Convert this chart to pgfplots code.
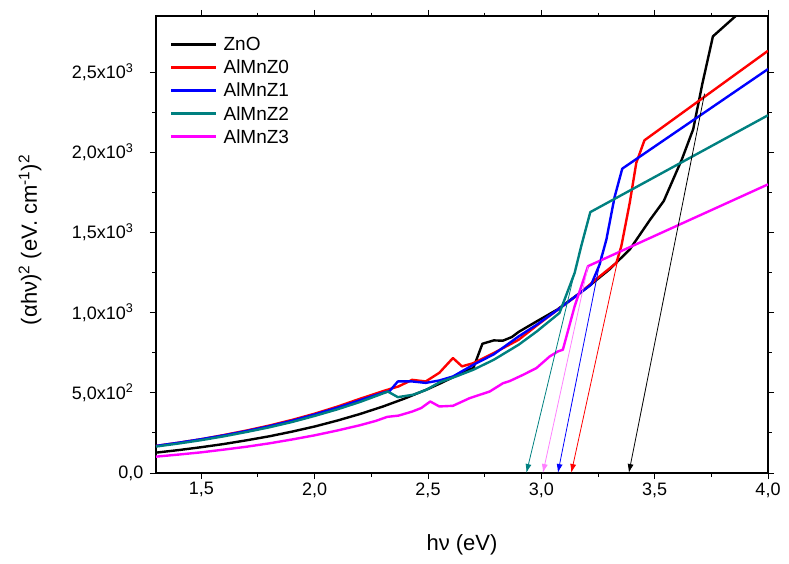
\documentclass[border=0pt]{standalone}
\usepackage{fontspec}
\setmainfont{Liberation Sans}
\usepackage{pgfplots}
\pgfplotsset{compat=1.18}
\usetikzlibrary{arrows.meta}
\definecolor{zteal}{RGB}{0,128,128}
\definecolor{zpink}{RGB}{255,128,255}
\definecolor{zmag}{RGB}{255,0,255}
\definecolor{zred}{RGB}{255,0,0}
\definecolor{zblue}{RGB}{0,0,255}
\begin{document}
\begin{tikzpicture}
\path[use as bounding box] (-156pt,-90pt) rectangle (633pt,473pt);
\begin{axis}[
  at={(0pt,0pt)}, anchor=south west,
  width=612pt, height=457pt, scale only axis,
  xmin=1.3, xmax=4.0, ymin=0, ymax=2850,
  xtick={1.5,2,2.5,3,3.5,4},
  xticklabels={{1,5},{2,0},{2,5},{3,0},{3,5},{4,0}},
  ytick={0,500,1000,1500,2000,2500},
  yticklabels={{0,0},{5,0x10\textsuperscript{2}\hspace*{10pt}},{1,0x10\textsuperscript{3}\hspace*{10pt}},{1,5x10\textsuperscript{3}\hspace*{10pt}},{2,0x10\textsuperscript{3}\hspace*{10pt}},{2,5x10\textsuperscript{3}\hspace*{10pt}}},
  minor x tick num=1, minor y tick num=1,
  tick align=outside,
  major tick length=6pt, minor tick length=3.5pt,
  every tick/.style={black, line width=1pt},
  axis line style={line width=1.2pt},
  ticklabel style={font=\fontsize{18}{20}\selectfont},
  yticklabel style={xshift=-3pt},
  xlabel={hν (eV)},
  ylabel={(αhν)\textsuperscript{2} (eV. cm\textsuperscript{-1})\textsuperscript{2}},
  label style={font=\fontsize{22}{24}\selectfont},
  xlabel style={at={(axis description cs:0.5,0)}, anchor=center, yshift=-72pt},
  ylabel style={at={(axis description cs:-0.206,0.51)}, anchor=center},
  legend style={at={(0.017,0.962)}, anchor=north west, draw=none, fill=none,
    font=\fontsize{19}{21}\selectfont, row sep=3.8pt,
    /tikz/every odd column/.append style={column sep=4pt}},
  legend cell align=left,
  legend image code/.code={\draw[#1, line width=3pt] (0pt,0pt) -- (45pt,0pt);},
  every axis plot/.append style={line width=2.4pt, line join=round},
]
\addplot[black, line width=2.4pt] coordinates {
(1.3,127) (1.4,143) (1.5,161) (1.6,181) (1.7,204) (1.8,229) (1.9,258) (2.0,290)
(2.1,327) (2.2,368) (2.3,414) (2.4,466) (2.5,524) (2.55,556) (2.6,590) (2.66,632)
(2.70,655) (2.74,806) (2.79,827) (2.83,825) (2.87,848) (2.90,880) (2.98,946)
(3.07,1019) (3.20,1154) (3.30,1269) (3.39,1394) (3.48,1580) (3.54,1696) (3.62,1956)
(3.67,2144) (3.71,2425) (3.757,2723) (4.0,3030)};
\addlegendentry{ZnO}
\addplot[zred, line width=2.4pt] coordinates {
(1.3,169) (1.4,189) (1.5,211) (1.6,237) (1.7,265) (1.8,296) (1.9,331) (2.0,370)
(2.1,414) (2.2,463) (2.3,510) (2.37,540) (2.43,581) (2.49,571) (2.55,625) (2.61,717)
(2.65,665) (2.70,685) (2.79,748) (2.90,831) (2.98,920) (3.073,1019) (3.16,1110)
(3.243,1210) (3.331,1310) (3.353,1415) (3.39,1685) (3.419,1935) (3.455,2075) (4.0,2633)};
\addlegendentry{AlMnZ0}
\addplot[zblue, line width=2.4pt] coordinates {
(1.3,169) (1.4,189) (1.5,211) (1.6,235) (1.7,262) (1.8,292) (1.9,326) (2.0,365)
(2.1,407) (2.2,454) (2.3,500) (2.33,510) (2.367,571) (2.43,571) (2.49,562) (2.55,577)
(2.61,602) (2.70,675) (2.79,740) (2.90,852) (2.98,925) (3.073,1019) (3.22,1175)
(3.257,1300) (3.287,1456) (3.323,1720) (3.357,1898) (4.0,2519)};
\addlegendentry{AlMnZ1}
\addplot[zteal, line width=2.4pt] coordinates {
(1.3,165) (1.4,184) (1.5,205) (1.6,229) (1.7,256) (1.8,285) (1.9,318) (2.0,356)
(2.1,397) (2.2,443) (2.28,485) (2.323,508) (2.367,473) (2.434,488) (2.493,519)
(2.55,565) (2.62,600) (2.70,644) (2.79,706) (2.90,800) (2.98,883) (3.08,998)
(3.147,1248) (3.176,1415) (3.216,1627) (4.0,2231)};
\addlegendentry{AlMnZ2}
\addplot[zmag, line width=2.4pt] coordinates {
(1.3,102) (1.4,115) (1.5,129) (1.6,146) (1.7,164) (1.8,185) (1.9,209) (2.0,235)
(2.1,265) (2.2,298) (2.27,325) (2.32,350) (2.37,358) (2.43,383) (2.47,405) (2.51,446)
(2.55,415) (2.61,419) (2.684,467) (2.772,508) (2.831,560) (2.86,573) (2.919,612)
(2.978,654) (3.037,727) (3.073,758) (3.095,769) (3.147,1040) (3.206,1290) (4.0,1800)};
\addlegendentry{AlMnZ3}
\addplot[zteal, line width=0.8pt, -{Latex[length=9pt,width=6pt]}, forget plot] coordinates {(3.15,1270) (2.934,0)};
\addplot[zpink, line width=0.8pt, -{Latex[length=9pt,width=6pt]}, forget plot] coordinates {(3.206,1290) (3.007,0)};
\addplot[zblue, line width=0.8pt, -{Latex[length=9pt,width=6pt]}, forget plot] coordinates {(3.265,1360) (3.073,0)};
\addplot[zred, line width=0.8pt, -{Latex[length=9pt,width=6pt]}, forget plot] coordinates {(3.345,1380) (3.132,0)};
\addplot[black, line width=0.8pt, -{Latex[length=9pt,width=6pt]}, forget plot] coordinates {(3.72,2366) (3.386,0)};
\end{axis}
\end{tikzpicture}
\end{document}
